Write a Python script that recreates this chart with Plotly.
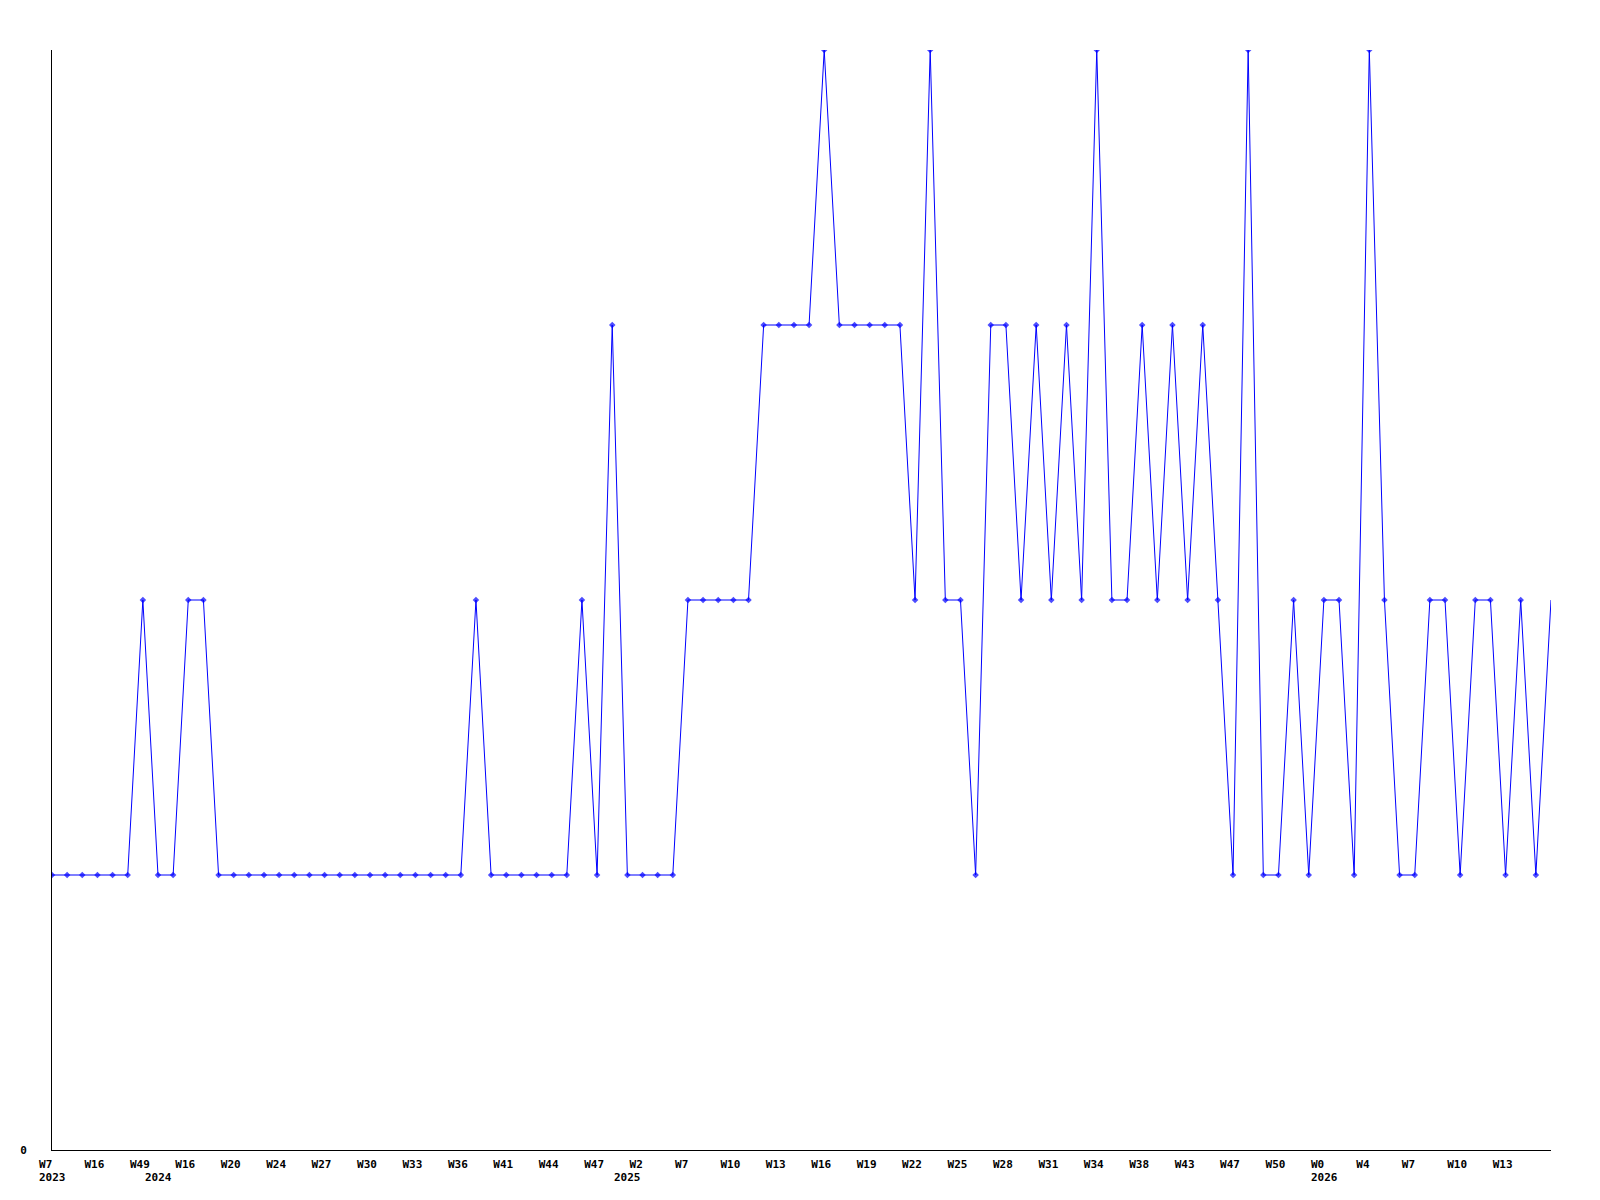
import plotly.graph_objects as go

# one value per sampled week, in order
values = [1, 1, 1, 1, 1, 1, 2, 1, 1, 2, 2,
          1, 1, 1, 1, 1, 1, 1, 1, 1, 1, 1, 1, 1, 1, 1, 1, 1,
          2, 1, 1, 1, 1, 1, 1, 2, 1, 3, 1, 1, 1, 1,
          2, 2, 2, 2, 2, 3, 3, 3, 3, 4, 3, 3, 3, 3, 3,
          2, 4, 2, 2, 1, 3, 3, 2, 3, 2, 3, 2, 4, 2, 2,
          3, 2, 3, 2, 3, 2, 1, 4, 1, 1, 2, 1, 2, 2, 1,
          4, 2, 1, 1, 2, 2, 1, 2, 2, 1, 2, 1, 2]

tick_labels = ["W7", "W16", "W49", "W16", "W20", "W24", "W27", "W30", "W33",
               "W36", "W41", "W44", "W47", "W2", "W7", "W10", "W13", "W16",
               "W19", "W22", "W25", "W28", "W31", "W34", "W38", "W43", "W47",
               "W50", "W0", "W4", "W7", "W10", "W13"]
tick_step = 3

year_labels = ["2023", "2024", "2025", "2026"]
year_positions = [0, 7, 38, 84]

x = list(range(len(values)))
tickvals = x[::tick_step][:len(tick_labels)]
ticktext = [t + "\u00a0" * (3 - len(t)) for t in tick_labels]

marker_sizes = [5] * len(values)
marker_sizes[-1] = 0

font_family = "DejaVu Sans Mono"

fig = go.Figure()
fig.add_trace(go.Scatter(
    x=x, y=values, mode="lines+markers",
    line=dict(color="#0000ff", width=1),
    marker=dict(symbol="diamond", size=marker_sizes, color="#0000ff",
                line=dict(width=0)),
    hoverinfo="skip", showlegend=False,
))

for yl, yp in zip(year_labels, year_positions):
    fig.add_annotation(
        x=yp, xref="x", y=0, yref="paper", text=yl, showarrow=False,
        xanchor="left", yanchor="middle", xshift=-15, yshift=-27,
        font=dict(family=font_family, size=11, color="black", weight="bold"),
    )

fig.update_layout(
    width=1584, height=1184,
    margin=dict(l=42, r=41, t=42, b=42),
    paper_bgcolor="white", plot_bgcolor="white",
    font=dict(family=font_family, size=11, color="black", weight="bold"),
)
fig.update_xaxes(
    range=[0, len(values) - 1], showgrid=False, zeroline=False,
    showline=True, linecolor="black", linewidth=1,
    tickmode="array", tickvals=tickvals, ticktext=ticktext,
    ticks="", ticklabelshift=-3, ticklabelstandoff=4,
    tickfont=dict(family=font_family, size=11, color="black", weight="bold"),
)
fig.update_yaxes(
    range=[0, 4], showgrid=False, zeroline=False,
    showline=True, linecolor="black", linewidth=1,
    tickmode="array", tickvals=[0], ticktext=["0"],
    ticks="", ticklabelstandoff=22,
    tickfont=dict(family=font_family, size=11, color="black", weight="bold"),
)

fig.write_html("out.html")
